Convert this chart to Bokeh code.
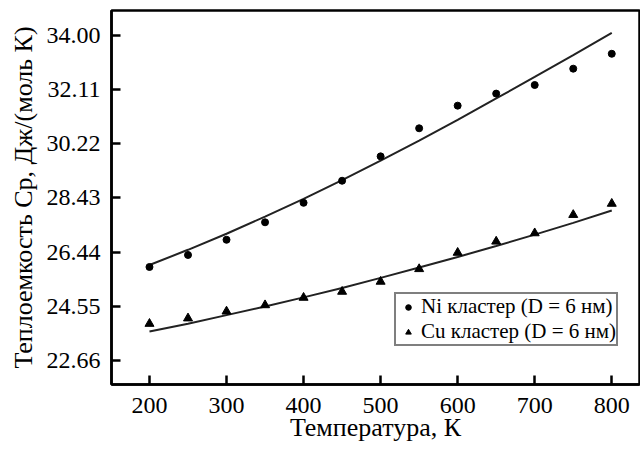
from bokeh.plotting import figure
from bokeh.models import FixedTicker, Range1d, Legend, LegendItem
from bokeh.embed import file_html
from bokeh.resources import INLINE

# ---- data ----
temps = [200, 250, 300, 350, 400, 450, 500, 550, 600, 650, 700, 750, 800]
ni_cp = [25.92, 26.34, 26.87, 27.48, 28.16, 28.93, 29.78, 30.76, 31.55, 31.97, 32.27, 32.84, 33.36]
cu_cp = [23.94, 24.13, 24.37, 24.59, 24.85, 25.06, 25.41, 25.85, 26.42, 26.81, 27.10, 27.74, 28.13]
ni_fit = [25.99, 26.52, 27.08, 27.68, 28.30, 28.95, 29.63, 30.33, 31.05, 31.80, 32.55, 33.31, 34.09]
cu_fit = [23.67, 23.94, 24.24, 24.54, 24.86, 25.19, 25.54, 25.90, 26.27, 26.65, 27.05, 27.46, 27.89]

x_ticks = [200, 300, 400, 500, 600, 700, 800]
y_ticks = [22.66, 24.55, 26.44, 28.33, 30.22, 32.11, 34.00]
y_tick_labels = ["22.66", "24.55", "26.44", "28.43", "30.22", "32.11", "34.00"]

ni_label = "Ni кластер (D = 6 нм)"
cu_label = "Cu кластер (D = 6 нм)"
x_title = "Температура, К"
y_title = "Теплоемкость Cp, Дж/(моль К)"

FONT = "Liberation Serif"

p = figure(width=640, height=452, output_backend="svg", toolbar_location=None,
           x_range=Range1d(150.7, 836.0), y_range=Range1d(21.82, 34.87),
           min_border_left=111, min_border_right=1, min_border_top=10, min_border_bottom=68)

p.background_fill_color = "white"
p.border_fill_color = "white"
p.outline_line_color = "black"
p.outline_line_width = 2.5
p.xgrid.visible = False
p.ygrid.visible = False

for ax in (p.xaxis, p.yaxis):
    ax.axis_line_width = 2.5
    ax.axis_line_color = "black"
    ax.major_tick_in = 9
    ax.major_tick_out = 0
    ax.major_tick_line_width = 2.5
    ax.minor_tick_line_color = None
    ax.major_label_text_font = FONT
    ax.major_label_text_font_size = "24px"
    ax.major_label_text_color = "black"
    ax.axis_label_text_font = FONT
    ax.axis_label_text_font_size = "26px"
    ax.axis_label_text_font_style = "normal"
    ax.axis_label_text_color = "black"

p.xaxis.ticker = FixedTicker(ticks=x_ticks)
p.yaxis.ticker = FixedTicker(ticks=y_ticks)
p.yaxis.major_label_overrides = {t: s for t, s in zip(y_ticks, y_tick_labels)}
p.xaxis.axis_label = x_title
p.yaxis.axis_label = y_title
p.xaxis.major_label_standoff = 13
p.xaxis.axis_label_standoff = -3
p.yaxis.major_label_standoff = 11
p.yaxis.axis_label_standoff = 6

p.line(temps, ni_fit, line_color="#222222", line_width=2)
p.line(temps, cu_fit, line_color="#222222", line_width=2)
r_ni = p.scatter(temps, ni_cp, marker="circle", size=7, fill_color="black", line_color="black")
r_cu = p.scatter(temps, cu_cp, marker="triangle", size=9, fill_color="black", line_color="black")

legend = Legend(items=[LegendItem(label=ni_label, renderers=[r_ni]),
                       LegendItem(label=cu_label, renderers=[r_cu])],
                location=(283, 38))
legend.label_text_font = FONT
legend.label_text_font_size = "21px"
legend.label_text_color = "black"
legend.label_height = 18
legend.label_standoff = 1
legend.glyph_width = 24
legend.glyph_height = 14
legend.spacing = 0
legend.padding = 0
legend.margin = 0
legend.border_line_color = "black"
legend.border_line_width = 2.5
legend.background_fill_color = "white"
legend.background_fill_alpha = 1.0
p.add_layout(legend)

open("out.html", "w").write(file_html(p, INLINE))
